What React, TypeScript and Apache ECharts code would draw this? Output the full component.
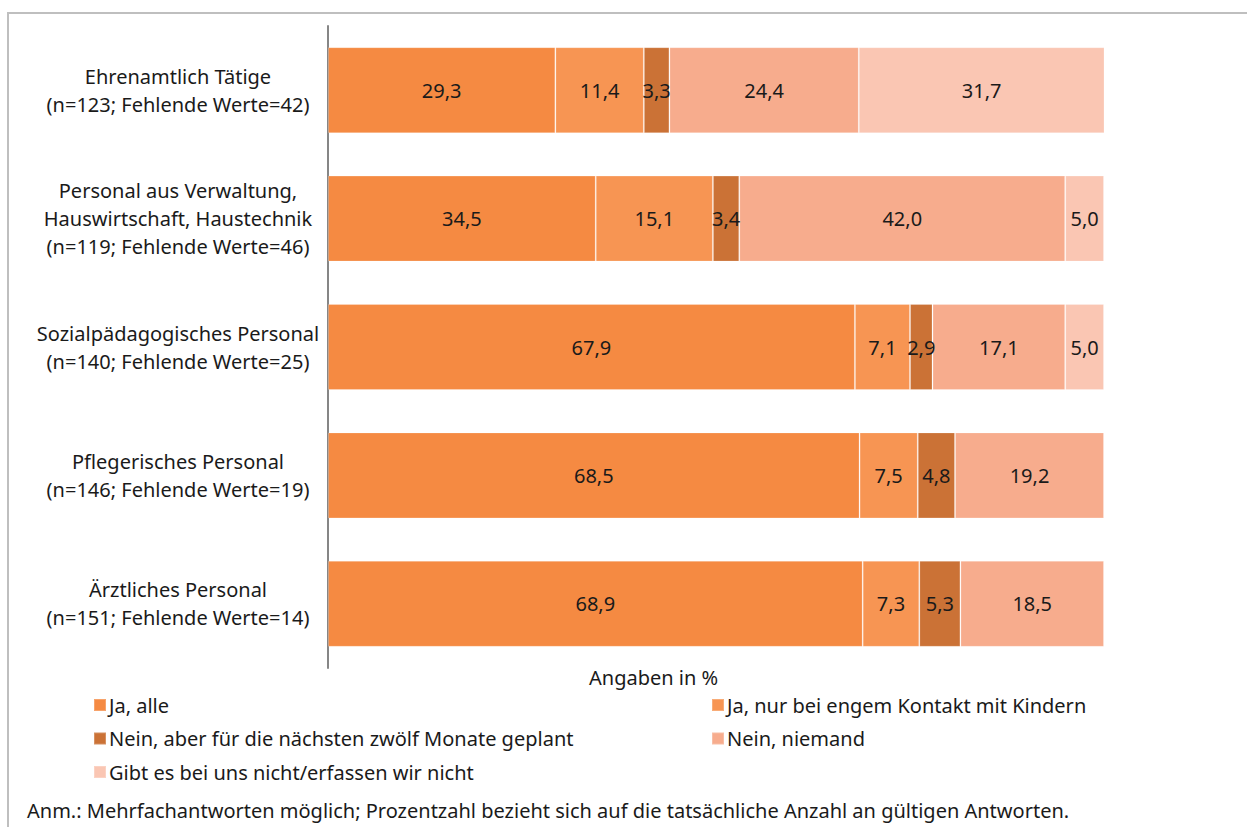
import React, { useEffect, useRef } from "react";
import * as echarts from "echarts";

// Staff groups, top to bottom as drawn
const categories = [
  "Ehrenamtlich Tätige\n(n=123; Fehlende Werte=42)",
  "Personal aus Verwaltung,\nHauswirtschaft, Haustechnik\n(n=119; Fehlende Werte=46)",
  "Sozialpädagogisches Personal\n(n=140; Fehlende Werte=25)",
  "Pflegerisches Personal\n(n=146; Fehlende Werte=19)",
  "Ärztliches Personal\n(n=151; Fehlende Werte=14)",
];

const seriesNames = [
  "Ja, alle",
  "Ja, nur bei engem Kontakt mit Kindern",
  "Nein, aber für die nächsten zwölf Monate geplant",
  "Nein, niemand",
  "Gibt es bei uns nicht/erfassen wir nicht",
];

const jaAlle = [29.3, 34.5, 67.9, 68.5, 68.9];
const jaKontakt = [11.4, 15.1, 7.1, 7.5, 7.3];
const neinGeplant = [3.3, 3.4, 2.9, 4.8, 5.3];
const neinNiemand = [24.4, 42.0, 17.1, 19.2, 18.5];
const gibtNicht = [31.7, 5.0, 5.0, null, null];

const seriesValues = [jaAlle, jaKontakt, neinGeplant, neinNiemand, gibtNicht];
const colors = ["#F58A42", "#F79553", "#CB7236", "#F7AC8D", "#FAC6B3"];

const FONT = "'Noto Sans', 'Open Sans', sans-serif";
const FS = 20;

export default function App() {
  const ref = useRef<HTMLDivElement>(null);

  useEffect(() => {
    if (!ref.current) return;
    const chart = echarts.init(ref.current, null, { renderer: "svg" });

    const series = seriesNames.map((name, i) => ({
      name,
      type: "bar" as const,
      stack: "total",
      barWidth: 86,
      data: seriesValues[i],
      itemStyle: {
        color: colors[i],
        borderColor: "rgba(255,255,255,0.22)",
        borderWidth: 1,
      },
      label: {
        show: true,
        position: "inside" as const,
        color: "#1a1a1a",
        fontFamily: FONT,
        fontSize: FS,
        formatter: (p: any) =>
          p.value == null ? "" : Number(p.value).toFixed(1).replace(".", ","),
      },
      emphasis: { disabled: true },
    }));

    const legendText = {
      color: "#1a1a1a",
      fontFamily: FONT,
      fontSize: FS,
      padding: [0, 0, 0, -2],
    };

    chart.setOption({
      animation: false,
      textStyle: { fontFamily: FONT },
      grid: { left: 328, right: 143, top: 26, bottom: 159, containLabel: false },
      xAxis: {
        type: "value",
        min: 0,
        max: 100,
        show: false,
      },
      yAxis: {
        type: "category",
        inverse: true,
        data: categories,
        axisLine: { show: true, lineStyle: { color: "#868686", width: 2 } },
        axisTick: { show: false },
        axisLabel: {
          align: "center",
          margin: 150,
          color: "#1a1a1a",
          fontFamily: FONT,
          fontSize: FS,
          lineHeight: 28,
        },
      },
      legend: [
        {
          orient: "vertical",
          left: 88,
          top: 690,
          itemWidth: 12,
          itemHeight: 12,
          itemGap: 13.5,
          icon: "rect",
          data: [seriesNames[0], seriesNames[2], seriesNames[4]],
          textStyle: legendText,
          selectedMode: false,
        },
        {
          orient: "vertical",
          left: 706,
          top: 690,
          itemWidth: 12,
          itemHeight: 12,
          itemGap: 13.5,
          icon: "rect",
          data: [seriesNames[1], seriesNames[3]],
          textStyle: legendText,
          selectedMode: false,
        },
      ],
      graphic: [
        {
          type: "rect",
          silent: true,
          shape: { x: 8, y: 13, width: 1400, height: 1000 },
          style: { fill: "none", stroke: "#BFBFBF", lineWidth: 2 },
        },
        {
          type: "text",
          left: 589,
          top: 667,
          style: { text: "Angaben in %", fill: "#1a1a1a", font: `${FS}px ${FONT}` },
        },
        {
          type: "text",
          left: 27,
          top: 800,
          style: {
            text: "Anm.: Mehrfachantworten möglich; Prozentzahl bezieht sich auf die tatsächliche Anzahl an gültigen Antworten.",
            fill: "#1a1a1a",
            font: `${FS}px ${FONT}`,
          },
        },
      ],
      series,
    });

    return () => chart.dispose();
  }, []);

  return (
    <div
      ref={ref}
      style={{ position: "absolute", left: 0, top: 0, width: 1247, height: 827, background: "#fff" }}
    />
  );
}
